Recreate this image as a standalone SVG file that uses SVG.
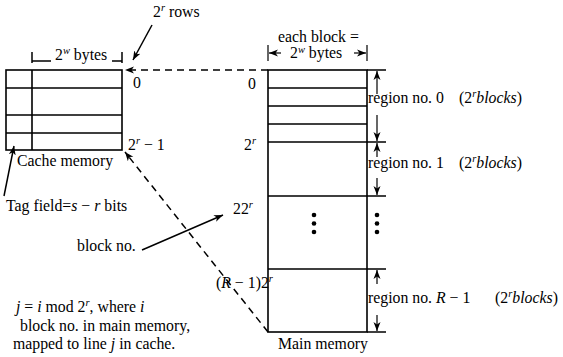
<svg xmlns="http://www.w3.org/2000/svg" width="563" height="357" viewBox="0 0 563 357">
<style>
  text { font-family: "Liberation Serif", "Times New Roman", serif; font-size: 15.8px; fill: #000; }
  .i { font-style: italic; }
  .sup { font-size: 10.5px; font-style: italic; }
  .box { fill: none; stroke: #000; stroke-width: 1.6; }
  .ln { fill: none; stroke: #000; stroke-width: 1.5; }
  .thin { fill: none; stroke: #000; stroke-width: 1.2; }
  .dash { fill: none; stroke: #000; stroke-width: 1.5; stroke-dasharray: 7 5; }
  .dot { fill: #000; }
</style>
<defs>
  <marker id="ah" markerWidth="10" markerHeight="8" refX="9" refY="4" orient="auto" markerUnits="userSpaceOnUse">
    <path d="M0,0.5 L9,4 L0,7.5 L2.5,4 z" fill="#000"/>
  </marker>
</defs>

<!-- cache memory -->
<g id="cache">
  <rect class="box" x="6" y="70" width="116" height="80"/>
  <path class="box" d="M6,88 H122 M6,115 H122 M6,133 H122 M32,70 V150"/>
  <path class="ln" d="M32,52 V63 M122,52 V63 M32,61 H51 M112,61 H122"/>
  <text x="55" y="60">2<tspan class="sup" dy="-6">w</tspan><tspan dy="6"> bytes</tspan></text>
  <text x="133" y="88">0</text>
  <text x="128" y="150">2<tspan class="sup" dy="-6">r</tspan><tspan dy="6"> − 1</tspan></text>
  <text x="17" y="166">Cache memory</text>
  <text x="153" y="17">2<tspan class="sup" dy="-6">r</tspan><tspan dy="6"> rows</tspan></text>
  <text x="6" y="211">Tag field=<tspan class="i">s</tspan> − <tspan class="i">r</tspan> bits</text>
</g>

<!-- main memory -->
<g id="main-memory">
  <rect class="box" x="268" y="70" width="99" height="262"/>
  <path class="box" d="M268,88 H367 M268,106 H367 M268,124 H367 M268,142 H367 M268,196 H367 M268,269 H367"/>
  <circle class="dot" cx="314" cy="215" r="2.3"/>
  <circle class="dot" cx="314" cy="223.5" r="2.3"/>
  <circle class="dot" cx="314" cy="232" r="2.3"/>
  <text x="278" y="42">each block =</text>
  <text x="290" y="58">2<tspan class="sup" dy="-5">w</tspan><tspan dy="5"> bytes</tspan></text>
  <text x="248" y="89">0</text>
  <text x="244" y="150">2<tspan class="sup" dy="-6">r</tspan></text>
  <text x="233" y="214">22<tspan class="sup" dy="-6">r</tspan></text>
  <text x="216" y="288">(<tspan class="i">R</tspan> − 1)2<tspan class="sup" dy="-6">r</tspan></text>
  <text x="278" y="349">Main memory</text>
</g>

<!-- regions -->
<g id="regions">
  <path class="ln" d="M367,70 H386 M367,142 H386 M367,196 H386 M367,269 H386 M367,332 H386"/>
  <circle class="dot" cx="377" cy="215" r="2.3"/>
  <circle class="dot" cx="377" cy="223.5" r="2.3"/>
  <circle class="dot" cx="377" cy="232" r="2.3"/>
  <text x="368" y="103">region no. 0</text>
  <text x="459" y="103">(2<tspan class="sup" dy="-6">r</tspan><tspan class="i" dy="6">blocks</tspan>)</text>
  <text x="368" y="168">region no. 1</text>
  <text x="459" y="168">(2<tspan class="sup" dy="-6">r</tspan><tspan class="i" dy="6">blocks</tspan>)</text>
  <text x="368" y="303">region no. <tspan class="i">R</tspan> − 1</text>
  <text x="495" y="303">(2<tspan class="sup" dy="-6">r</tspan><tspan class="i" dy="6">blocks</tspan>)</text>
</g>

<!-- notes -->
<g id="notes">
  <text x="16" y="312"><tspan class="i">j</tspan> = <tspan class="i">i</tspan> mod 2<tspan class="sup" dy="-6">r</tspan><tspan dy="6">, where </tspan><tspan class="i">i</tspan></text>
  <text x="20" y="331">block no. in main memory,</text>
  <text x="13" y="349">mapped to line <tspan class="i">j</tspan> in cache.</text>
  <text x="77" y="251">block no.</text>
</g>

<!-- connectors -->
<g id="connectors">
  <path class="dash" d="M268,70 H125" marker-end="url(#ah)"/>
  <path class="dash" d="M268,332 L125,152" marker-end="url(#ah)"/>
  <path class="ln" d="M152,25 L133,60" marker-end="url(#ah)"/>
  <path class="ln" d="M4,196 L14,146" marker-end="url(#ah)"/>
  <path class="ln" d="M142,250 L223,215" marker-end="url(#ah)"/>
  <path class="thin" d="M268,45 V61 M367,45 V61"/>
  <path class="thin" d="M281,53 H269" marker-end="url(#ah)"/>
  <path class="thin" d="M354,53 H366" marker-end="url(#ah)"/>
  <path class="thin" d="M377,94 V71" marker-end="url(#ah)"/>
  <path class="thin" d="M377,115 V141" marker-end="url(#ah)"/>
  <path class="thin" d="M377,157 V143" marker-end="url(#ah)"/>
  <path class="thin" d="M377,178 V195" marker-end="url(#ah)"/>
  <path class="thin" d="M377,284 V270" marker-end="url(#ah)"/>
  <path class="thin" d="M377,315 V331" marker-end="url(#ah)"/>
</g>
</svg>
